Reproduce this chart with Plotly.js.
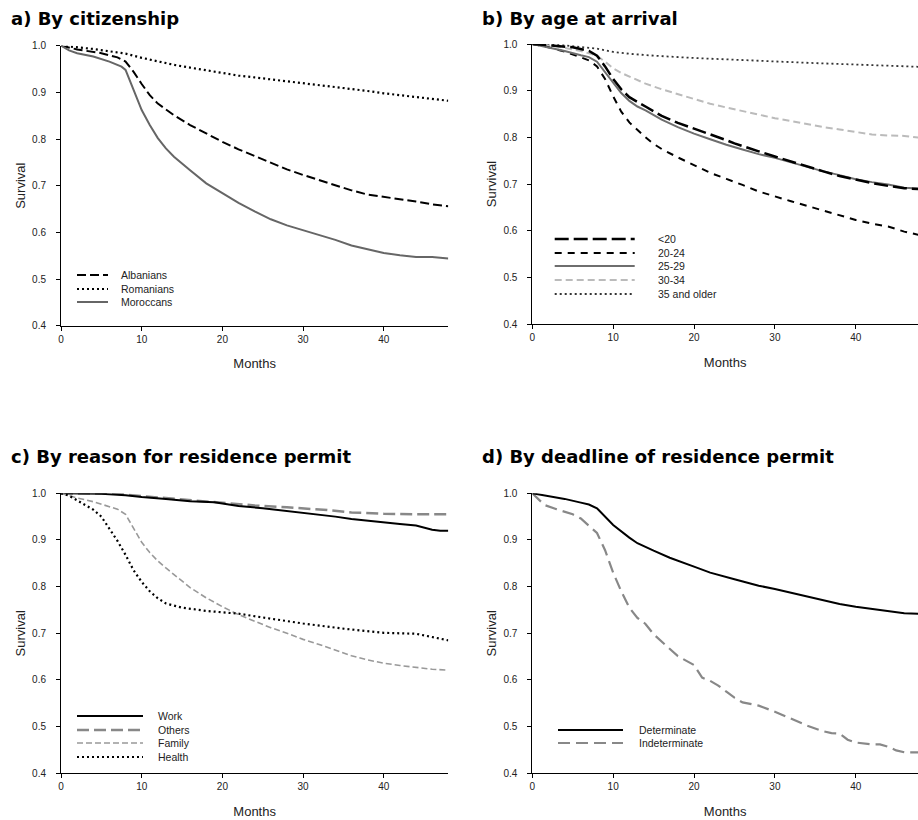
<!DOCTYPE html>
<html><head><meta charset="utf-8">
<script src="https://cdn.plot.ly/plotly-3.0.1.min.js"></script>
<style>html,body{margin:0;padding:0;background:#fff}#chart{width:918px;height:820px}</style>
</head><body><div id="chart"></div>
<script>
// ---------- data ----------
// a) By citizenship
const albaniansMonths = [0,2,5,7,8,9,10,11,12,13,14,16,18,20,22,24,26,28,30,32,34,36,38,40,42,44,46,48];
const albaniansSurv   = [1.0,0.992,0.984,0.975,0.966,0.944,0.918,0.894,0.876,0.863,0.851,0.83,0.812,0.794,0.778,0.764,0.749,0.735,0.723,0.712,0.701,0.69,0.681,0.676,0.672,0.666,0.66,0.656];
const romaniansMonths = [0,2,4,6,8,10,12,14,16,18,20,22,24,26,28,30,32,34,36,38,40,42,44,46,48];
const romaniansSurv   = [1.0,0.997,0.993,0.988,0.983,0.974,0.966,0.959,0.953,0.947,0.941,0.936,0.932,0.928,0.924,0.92,0.916,0.911,0.907,0.903,0.898,0.894,0.89,0.885,0.882];
const moroccansMonths = [0,1,2,4,6,7.5,8,9,10,11,12,13,14,16,18,20,22,24,26,28,30,32,34,36,38,40,42,44,46,48];
const moroccansSurv   = [1.0,0.99,0.984,0.977,0.966,0.955,0.948,0.905,0.862,0.83,0.802,0.78,0.762,0.733,0.705,0.684,0.663,0.645,0.628,0.615,0.605,0.594,0.584,0.572,0.564,0.556,0.551,0.547,0.547,0.544];

// b) By age at arrival
const under20Months = [0,3,5,7,8,9,10,11,12,14,15,16,18,20,22,24,25,26,28,30,32,34,36,38,40,42,44,46,48];
const under20Surv   = [1.0,0.996,0.993,0.985,0.975,0.952,0.925,0.903,0.886,0.866,0.856,0.846,0.831,0.819,0.806,0.794,0.787,0.781,0.77,0.759,0.748,0.737,0.727,0.717,0.709,0.702,0.696,0.691,0.689];
const age2024Months = [0,2,4,6,7,8,9,10,11,12,13,14,15,16,18,20,22,24,25,26,28,30,32,34,35,36,38,40,42,44,46,48];
const age2024Surv   = [1.0,0.993,0.984,0.972,0.965,0.952,0.925,0.888,0.855,0.832,0.815,0.8,0.786,0.775,0.757,0.74,0.724,0.711,0.705,0.698,0.684,0.673,0.663,0.653,0.648,0.642,0.632,0.623,0.615,0.609,0.598,0.59];
const age2529Months = [0,2,4,6,7,8,9,10,11,12,13,14,15,16,18,20,22,24,26,28,30,32,34,36,38,40,42,44,46,48];
const age2529Surv   = [1.0,0.993,0.985,0.976,0.972,0.962,0.94,0.917,0.895,0.878,0.866,0.858,0.848,0.838,0.822,0.808,0.796,0.784,0.774,0.764,0.756,0.746,0.736,0.727,0.719,0.71,0.704,0.699,0.692,0.69];
const age3034Months = [0,3,6,8,9,10,11,12,14,16,18,20,22,24,26,28,30,32,34,36,38,40,42,44,46,48];
const age3034Surv   = [1.0,0.995,0.985,0.975,0.962,0.948,0.938,0.93,0.915,0.903,0.893,0.882,0.872,0.864,0.856,0.848,0.841,0.835,0.828,0.822,0.817,0.811,0.806,0.804,0.803,0.799];
const age35Months = [0,4,8,10,12,15,20,25,30,35,40,45,48];
const age35Surv   = [1.0,0.997,0.99,0.983,0.979,0.975,0.97,0.966,0.962,0.959,0.956,0.953,0.951];

// c) By reason for residence permit
const workMonths = [0,5,8,10,13,16,19,20,22,25,28,30,32,34,36,38,40,42,44,46,47,48];
const workSurv   = [1.0,0.999,0.996,0.992,0.988,0.983,0.981,0.978,0.973,0.968,0.962,0.958,0.955,0.95,0.945,0.941,0.937,0.934,0.931,0.922,0.92,0.92];
const othersMonths = [0,7,10,14,18,20,24,28,30,33,36,38,40,44,48];
const othersSurv   = [1.0,0.999,0.994,0.988,0.983,0.98,0.974,0.97,0.968,0.964,0.959,0.957,0.956,0.955,0.955];
const familyMonths = [0,2,4,6,7,8,9,10,11,12,13,14,15,16,18,20,22,24,26,28,30,32,34,36,38,40,42,44,46,48];
const familySurv   = [1.0,0.99,0.982,0.972,0.966,0.955,0.925,0.895,0.873,0.855,0.84,0.826,0.81,0.798,0.776,0.757,0.74,0.726,0.712,0.7,0.687,0.676,0.664,0.652,0.643,0.636,0.631,0.627,0.623,0.621];
const healthMonths = [0,1,2,3,4,5,6,7,8,9,10,11,12,13,15,18,20,22,25,30,35,40,44,46,48];
const healthSurv   = [1.0,0.995,0.985,0.975,0.965,0.95,0.925,0.898,0.868,0.835,0.81,0.79,0.775,0.764,0.755,0.748,0.745,0.742,0.734,0.721,0.71,0.701,0.699,0.692,0.685];

// d) By deadline of residence permit
const determinateMonths = [0,2,4,6,7,8,9,10,12,13,15,17,20,22,25,28,30,35,38,40,44,46,48];
const determinateSurv   = [1.0,0.994,0.988,0.98,0.976,0.968,0.95,0.932,0.905,0.893,0.877,0.862,0.843,0.83,0.816,0.802,0.795,0.774,0.763,0.757,0.748,0.743,0.742];
const indeterminateMonths = [0,1,1.5,3,5,6,7,8,9,10,11,12,13,14,15,16,17,18,20,21,22,23,24,25,26,27,28,30,32,34,36,37,38,39,40,42,43,44,45,46,48];
const indeterminateSurv   = [1.0,0.982,0.975,0.966,0.955,0.946,0.93,0.915,0.878,0.83,0.79,0.755,0.733,0.72,0.698,0.682,0.668,0.651,0.632,0.605,0.598,0.588,0.575,0.562,0.552,0.549,0.545,0.532,0.517,0.502,0.49,0.486,0.485,0.472,0.466,0.462,0.462,0.457,0.449,0.445,0.445];

const panelTitles = ["a) By citizenship","b) By age at arrival","c) By reason for residence permit","d) By deadline of residence permit"];
const xTickVals = [0,10,20,30,40];
const yTickVals = [0.4,0.5,0.6,0.7,0.8,0.9,1.0];

// ---------- layout helpers ----------
const W = 918, H = 820;
const px = x => x / W;
const py = y => 1 - y / H;
const FONT = "Liberation Sans, Arial, sans-serif";
const TITLE_FONT = "DejaVu Sans, Liberation Sans, Arial, sans-serif";

const styles = {
  alb:   {color:'#000', width:2,   dash:'9px,4px'},
  rom:   {color:'#000', width:2.2, dash:'2px,3px'},
  mor:   {color:'#666', width:2,   dash:'solid'},
  u20:   {color:'#000', width:2.5, dash:'14px,5px'},
  a2024: {color:'#000', width:2,   dash:'7px,6px'},
  a2529: {color:'#6e6e6e', width:2, dash:'solid'},
  a3034: {color:'#bbb', width:2,   dash:'7px,4px'},
  a35:   {color:'#333', width:1.8, dash:'2px,3px'},
  work:  {color:'#000', width:2,   dash:'solid'},
  oth:   {color:'#888', width:2.5, dash:'12px,5px'},
  fam:   {color:'#999', width:1.6, dash:'6px,3px'},
  hea:   {color:'#000', width:2.2, dash:'2px,3px'},
  det:   {color:'#000', width:2,   dash:'solid'},
  ind:   {color:'#888', width:2.2, dash:'12px,6px'}
};

function tr(x, y, name, st, ax) {
  return {x:x, y:y, name:name, type:'scatter', mode:'lines', line:st,
          xaxis:'x'+(ax===1?'':ax), yaxis:'y'+(ax===1?'':ax), showlegend:false, hoverinfo:'skip'};
}

const traces = [
  tr(albaniansMonths, albaniansSurv, 'Albanians', styles.alb, 1),
  tr(romaniansMonths, romaniansSurv, 'Romanians', styles.rom, 1),
  tr(moroccansMonths, moroccansSurv, 'Moroccans', styles.mor, 1),
  tr(age35Months, age35Surv, '35 and older', styles.a35, 2),
  tr(age3034Months, age3034Surv, '30-34', styles.a3034, 2),
  tr(age2024Months, age2024Surv, '20-24', styles.a2024, 2),
  tr(age2529Months, age2529Surv, '25-29', styles.a2529, 2),
  tr(under20Months, under20Surv, '<20', styles.u20, 2),
  tr(othersMonths, othersSurv, 'Others', styles.oth, 3),
  tr(workMonths, workSurv, 'Work', styles.work, 3),
  tr(familyMonths, familySurv, 'Family', styles.fam, 3),
  tr(healthMonths, healthSurv, 'Health', styles.hea, 3),
  tr(indeterminateMonths, indeterminateSurv, 'Indeterminate', styles.ind, 4),
  tr(determinateMonths, determinateSurv, 'Determinate', styles.det, 4)
];

// panel geometry in pixels
const panels = [
  {x0:61,    x1:448.3, xmax:48,   y0:45.7,  y1:325.7},
  {x0:532.3, x1:918,   xmax:47.7, y0:44,    y1:324},
  {x0:61,    x1:448.3, xmax:48,   y0:493.3, y1:773.3},
  {x0:532.3, x1:918,   xmax:47.7, y0:493.3, y1:773.3}
];

const layout = {
  width:W, height:H, margin:{l:0,r:0,t:0,b:0},
  paper_bgcolor:'#fff', plot_bgcolor:'#fff',
  font:{family:FONT, size:10, color:'#222'},
  showlegend:false, shapes:[], annotations:[]
};

panels.forEach((p, i) => {
  const k = i + 1, s = k === 1 ? '' : String(k);
  layout['xaxis'+s] = {
    domain:[px(p.x0), px(p.x1)], range:[0, p.xmax], anchor:'y'+s,
    tickvals:xTickVals, ticks:'outside', ticklen:4, tickcolor:'#000', tickwidth:1,
    showline:true, linecolor:'#000', linewidth:1, showgrid:false, zeroline:false,
    tickfont:{family:FONT, size:10, color:'#222'},
    title:{text:'Months', font:{family:FONT, size:13, color:'#222'}, standoff:15}
  };
  layout['yaxis'+s] = {
    domain:[py(p.y1), py(p.y0)], range:[0.4, 1.0], anchor:'x'+s,
    tickvals:yTickVals, tickformat:'.1f', ticks:'outside', ticklen:4, tickcolor:'#000', tickwidth:1,
    ticklabelstandoff:8,
    showline:true, linecolor:'#000', linewidth:1, showgrid:false, zeroline:false,
    tickfont:{family:FONT, size:10, color:'#222'},
    title:{text:'Survival', font:{family:FONT, size:13, color:'#222'}, standoff:3}
  };
});

// panel titles
const titlePos = [[9, 18], [480, 18], [9, 456.5], [480, 456.5]];
panelTitles.forEach((t, i) => {
  layout.annotations.push({
    text:'<b>'+t+'</b>', xref:'paper', yref:'paper', x:px(titlePos[i][0]), y:py(titlePos[i][1]),
    xanchor:'left', yanchor:'middle', showarrow:false,
    font:{family:TITLE_FONT, size:18, color:'#000'}
  });
});

// legends (sample line + label)
const legends = [
  {lx0:77,  lx1:108, tx:119, items:[['Albanians',styles.alb,275],['Romanians',styles.rom,289],['Moroccans',styles.mor,302]]},
  {lx0:554.7, lx1:634.7, tx:656, items:[['<20',styles.u20,239],['20-24',styles.a2024,253],['25-29',styles.a2529,266],['30-34',styles.a3034,280],['35 and older',styles.a35,294]]},
  {lx0:77,  lx1:143, tx:156, items:[['Work',styles.work,716],['Others',styles.oth,730],['Family',styles.fam,743],['Health',styles.hea,757]]},
  {lx0:558, lx1:623, tx:637, items:[['Determinate',styles.det,730],['Indeterminate',styles.ind,743]]}
];
legends.forEach(lg => {
  lg.items.forEach(([label, st, y]) => {
    layout.shapes.push({type:'line', xref:'paper', yref:'paper',
      x0:px(lg.lx0), x1:px(lg.lx1), y0:py(y), y1:py(y), line:st});
    layout.annotations.push({text:label.replace('<','&lt;'), xref:'paper', yref:'paper',
      x:px(lg.tx), y:py(y), xanchor:'left', yanchor:'middle', showarrow:false,
      font:{family:FONT, size:10.5, color:'#222'}});
  });
});

Plotly.newPlot('chart', traces, layout, {staticPlot:true, displayModeBar:false});
</script>
</body></html>
